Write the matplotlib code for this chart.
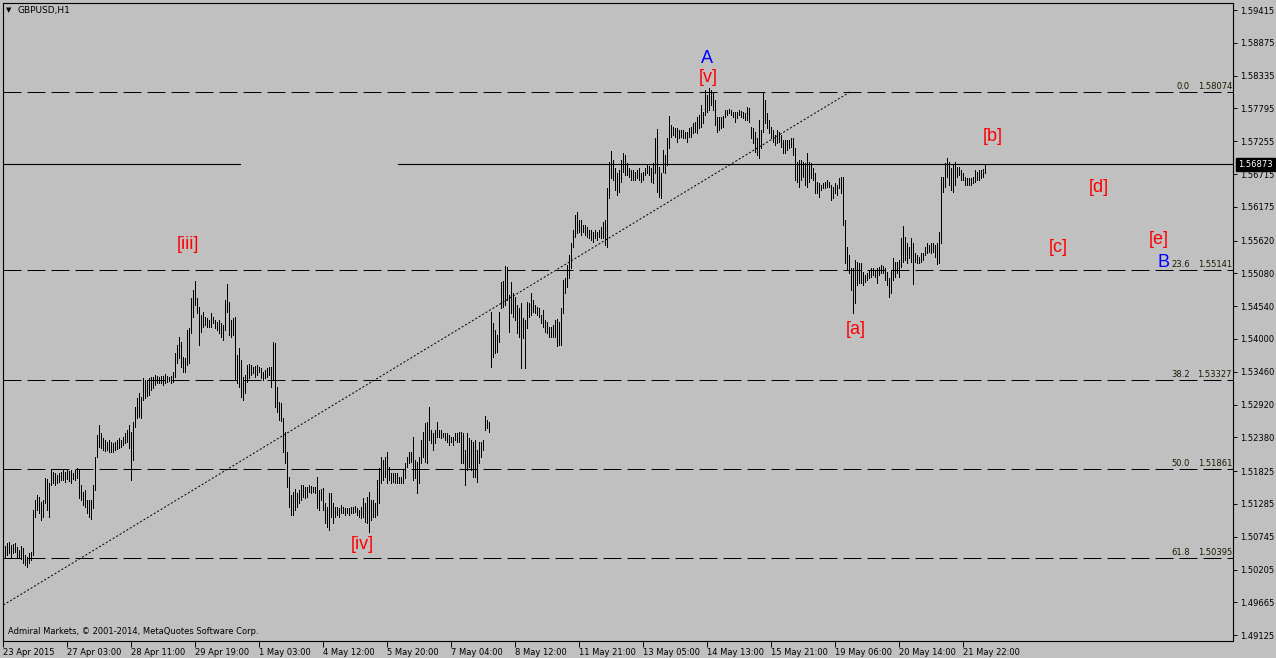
import numpy as np
import matplotlib
matplotlib.use('Agg')
import matplotlib.pyplot as plt

plt.rcParams['font.family'] = ['DejaVu Sans']

symbol = 'GBPUSD,H1'
copyright_text = 'Admiral Markets, \u00a9 2001-2014, MetaQuotes Software Corp.'

# hourly bars, high / low
highs = [
    1.5058, 1.5059, 1.5064, 1.5066, 1.5061, 1.5063, 1.5064, 1.5058, 1.5053, 1.5059,
    1.5056, 1.5044, 1.5041, 1.5048, 1.5049, 1.5118, 1.5135, 1.5143, 1.5140, 1.5132,
    1.5135, 1.5171, 1.5169, 1.5163, 1.5186, 1.5181, 1.5179, 1.5176, 1.5179, 1.5181,
    1.5184, 1.5181, 1.5184, 1.5183, 1.5184, 1.5179, 1.5184, 1.5188, 1.5184, 1.5160,
    1.5148, 1.5151, 1.5135, 1.5135, 1.5135, 1.5160, 1.5206, 1.5242, 1.5258, 1.5245,
    1.5237, 1.5234, 1.5230, 1.5234, 1.5230, 1.5229, 1.5230, 1.5234, 1.5237, 1.5234,
    1.5239, 1.5245, 1.5250, 1.5258, 1.5247, 1.5263, 1.5288, 1.5303, 1.5311, 1.5304,
    1.5336, 1.5333, 1.5333, 1.5336, 1.5337, 1.5337, 1.5341, 1.5339, 1.5337, 1.5339,
    1.5339, 1.5342, 1.5339, 1.5337, 1.5339, 1.5346, 1.5377, 1.5390, 1.5403, 1.5395,
    1.5370, 1.5369, 1.5415, 1.5418, 1.5467, 1.5481, 1.5495, 1.5467, 1.5453, 1.5439,
    1.5444, 1.5436, 1.5434, 1.5431, 1.5443, 1.5436, 1.5431, 1.5428, 1.5431, 1.5426,
    1.5423, 1.5464, 1.5490, 1.5461, 1.5431, 1.5434, 1.5436, 1.5374, 1.5385, 1.5365,
    1.5337, 1.5341, 1.5357, 1.5359, 1.5357, 1.5354, 1.5356, 1.5357, 1.5354, 1.5352,
    1.5346, 1.5349, 1.5352, 1.5354, 1.5354, 1.5395, 1.5393, 1.5321, 1.5296, 1.5295,
    1.5270, 1.5247, 1.5214, 1.5173, 1.5143, 1.5148, 1.5153, 1.5146, 1.5151, 1.5160,
    1.5160, 1.5156, 1.5156, 1.5160, 1.5158, 1.5156, 1.5156, 1.5173, 1.5151, 1.5153,
    1.5155, 1.5130, 1.5123, 1.5146, 1.5146, 1.5130, 1.5123, 1.5123, 1.5122, 1.5127,
    1.5123, 1.5122, 1.5122, 1.5122, 1.5123, 1.5123, 1.5125, 1.5122, 1.5118, 1.5123,
    1.5138, 1.5130, 1.5140, 1.5148, 1.5135, 1.5135, 1.5130, 1.5168, 1.5188, 1.5206,
    1.5201, 1.5206, 1.5214, 1.5189, 1.5179, 1.5179, 1.5179, 1.5179, 1.5173, 1.5173,
    1.5184, 1.5196, 1.5206, 1.5214, 1.5214, 1.5239, 1.5201, 1.5198, 1.5206, 1.5234,
    1.5247, 1.5262, 1.5263, 1.5288, 1.5250, 1.5245, 1.5250, 1.5263, 1.5250, 1.5250,
    1.5245, 1.5245, 1.5245, 1.5242, 1.5239, 1.5239, 1.5245, 1.5245, 1.5247, 1.5247,
    1.5245, 1.5217, 1.5245, 1.5237, 1.5234, 1.5230, 1.5234, 1.5217, 1.5230, 1.5230,
    1.5234, 1.5273, 1.5267, 1.5263, 1.5444, 1.5426, 1.5415, 1.5406, 1.5444, 1.5494,
    1.5495, 1.5520, 1.5518, 1.5472, 1.5494, 1.5476, 1.5469, 1.5456, 1.5451, 1.5459,
    1.5434, 1.5431, 1.5461, 1.5459, 1.5476, 1.5464, 1.5456, 1.5453, 1.5451, 1.5439,
    1.5448, 1.5431, 1.5428, 1.5420, 1.5420, 1.5423, 1.5431, 1.5433, 1.5428, 1.5451,
    1.5497, 1.5500, 1.5522, 1.5538, 1.5558, 1.5579, 1.5604, 1.5609, 1.5596, 1.5596,
    1.5588, 1.5588, 1.5584, 1.5579, 1.5579, 1.5576, 1.5579, 1.5576, 1.5579, 1.5584,
    1.5593, 1.5596, 1.5649, 1.5691, 1.5709, 1.5695, 1.5681, 1.5673, 1.5678, 1.5695,
    1.5706, 1.5703, 1.5690, 1.5681, 1.5678, 1.5678, 1.5675, 1.5678, 1.5681, 1.5673,
    1.5675, 1.5681, 1.5686, 1.5685, 1.5681, 1.5690, 1.5731, 1.5746, 1.5683, 1.5673,
    1.5711, 1.5703, 1.5731, 1.5767, 1.5752, 1.5749, 1.5747, 1.5747, 1.5744, 1.5744,
    1.5744, 1.5741, 1.5741, 1.5747, 1.5749, 1.5756, 1.5757, 1.5765, 1.5769, 1.5785,
    1.5774, 1.5810, 1.5802, 1.5813, 1.5810, 1.5805, 1.5793, 1.5765, 1.5765, 1.5765,
    1.5767, 1.5777, 1.5777, 1.5779, 1.5777, 1.5774, 1.5774, 1.5774, 1.5777, 1.5775,
    1.5774, 1.5772, 1.5782, 1.5780, 1.5749, 1.5747, 1.5741, 1.5731, 1.5761, 1.5744,
    1.5805, 1.5793, 1.5772, 1.5761, 1.5749, 1.5744, 1.5736, 1.5744, 1.5741, 1.5736,
    1.5728, 1.5728, 1.5728, 1.5728, 1.5731, 1.5731, 1.5714, 1.5691, 1.5695, 1.5695,
    1.5691, 1.5690, 1.5706, 1.5691, 1.5690, 1.5681, 1.5673, 1.5658, 1.5657, 1.5653,
    1.5657, 1.5658, 1.5662, 1.5658, 1.5653, 1.5650, 1.5657, 1.5653, 1.5665, 1.5667,
    1.5667, 1.5596, 1.5551, 1.5538, 1.5517, 1.5517, 1.5530, 1.5527, 1.5525, 1.5525,
    1.5510, 1.5505, 1.5509, 1.5512, 1.5517, 1.5517, 1.5514, 1.5517, 1.5518, 1.5522,
    1.5520, 1.5517, 1.5510, 1.5500, 1.5514, 1.5533, 1.5527, 1.5527, 1.5530, 1.5566,
    1.5586, 1.5568, 1.5558, 1.5551, 1.5566, 1.5558, 1.5541, 1.5538, 1.5535, 1.5541,
    1.5541, 1.5551, 1.5558, 1.5555, 1.5558, 1.5558, 1.5555, 1.5558, 1.5576, 1.5667,
    1.5667, 1.5690, 1.5698, 1.5691, 1.5681, 1.5686, 1.5691, 1.5683, 1.5683, 1.5678,
    1.5673, 1.5667, 1.5665, 1.5665, 1.5665, 1.5667, 1.5678, 1.5675, 1.5678, 1.5678,
    1.5680, 1.5686,
]
lows = [
    1.5038, 1.5041, 1.5045, 1.5048, 1.5041, 1.5048, 1.5049, 1.5041, 1.5040, 1.5038,
    1.5031, 1.5028, 1.5025, 1.5031, 1.5036, 1.5044, 1.5107, 1.5118, 1.5113, 1.5102,
    1.5107, 1.5130, 1.5118, 1.5107, 1.5160, 1.5163, 1.5160, 1.5163, 1.5164, 1.5168,
    1.5168, 1.5164, 1.5169, 1.5166, 1.5163, 1.5169, 1.5168, 1.5171, 1.5138, 1.5135,
    1.5127, 1.5123, 1.5113, 1.5107, 1.5104, 1.5122, 1.5151, 1.5206, 1.5222, 1.5220,
    1.5217, 1.5216, 1.5217, 1.5214, 1.5214, 1.5214, 1.5217, 1.5219, 1.5220, 1.5222,
    1.5225, 1.5229, 1.5230, 1.5220, 1.5168, 1.5201, 1.5255, 1.5270, 1.5271, 1.5270,
    1.5300, 1.5303, 1.5306, 1.5308, 1.5316, 1.5319, 1.5324, 1.5327, 1.5327, 1.5327,
    1.5324, 1.5327, 1.5329, 1.5331, 1.5327, 1.5329, 1.5337, 1.5360, 1.5369, 1.5354,
    1.5346, 1.5346, 1.5357, 1.5360, 1.5410, 1.5436, 1.5456, 1.5443, 1.5390, 1.5411,
    1.5420, 1.5423, 1.5420, 1.5420, 1.5420, 1.5426, 1.5418, 1.5415, 1.5410, 1.5403,
    1.5398, 1.5415, 1.5444, 1.5406, 1.5403, 1.5406, 1.5333, 1.5328, 1.5321, 1.5305,
    1.5300, 1.5311, 1.5329, 1.5336, 1.5341, 1.5344, 1.5337, 1.5341, 1.5346, 1.5336,
    1.5333, 1.5336, 1.5337, 1.5341, 1.5321, 1.5333, 1.5288, 1.5280, 1.5267, 1.5265,
    1.5214, 1.5196, 1.5156, 1.5123, 1.5110, 1.5110, 1.5118, 1.5123, 1.5130, 1.5135,
    1.5140, 1.5138, 1.5140, 1.5148, 1.5146, 1.5148, 1.5146, 1.5122, 1.5118, 1.5135,
    1.5118, 1.5097, 1.5091, 1.5086, 1.5107, 1.5097, 1.5107, 1.5110, 1.5107, 1.5114,
    1.5114, 1.5110, 1.5114, 1.5110, 1.5114, 1.5114, 1.5115, 1.5110, 1.5107, 1.5105,
    1.5107, 1.5099, 1.5097, 1.5082, 1.5102, 1.5107, 1.5107, 1.5110, 1.5130, 1.5163,
    1.5168, 1.5173, 1.5163, 1.5168, 1.5163, 1.5164, 1.5163, 1.5163, 1.5163, 1.5163,
    1.5163, 1.5171, 1.5189, 1.5196, 1.5198, 1.5168, 1.5171, 1.5146, 1.5163, 1.5196,
    1.5206, 1.5198, 1.5196, 1.5234, 1.5229, 1.5217, 1.5229, 1.5239, 1.5239, 1.5237,
    1.5239, 1.5234, 1.5230, 1.5225, 1.5230, 1.5225, 1.5234, 1.5230, 1.5230, 1.5196,
    1.5196, 1.5160, 1.5184, 1.5189, 1.5184, 1.5173, 1.5173, 1.5164, 1.5196, 1.5206,
    1.5217, 1.5250, 1.5253, 1.5247, 1.5354, 1.5370, 1.5377, 1.5379, 1.5395, 1.5451,
    1.5453, 1.5456, 1.5464, 1.5411, 1.5443, 1.5436, 1.5431, 1.5410, 1.5403, 1.5352,
    1.5402, 1.5352, 1.5418, 1.5436, 1.5439, 1.5444, 1.5443, 1.5439, 1.5436, 1.5426,
    1.5420, 1.5411, 1.5410, 1.5403, 1.5403, 1.5403, 1.5403, 1.5388, 1.5390, 1.5390,
    1.5443, 1.5476, 1.5486, 1.5500, 1.5517, 1.5551, 1.5568, 1.5575, 1.5576, 1.5571,
    1.5576, 1.5571, 1.5568, 1.5566, 1.5563, 1.5560, 1.5566, 1.5563, 1.5568, 1.5566,
    1.5566, 1.5555, 1.5551, 1.5632, 1.5665, 1.5662, 1.5645, 1.5637, 1.5642, 1.5658,
    1.5675, 1.5670, 1.5670, 1.5667, 1.5662, 1.5662, 1.5662, 1.5665, 1.5662, 1.5658,
    1.5662, 1.5670, 1.5673, 1.5670, 1.5658, 1.5657, 1.5673, 1.5642, 1.5634, 1.5632,
    1.5675, 1.5673, 1.5686, 1.5714, 1.5733, 1.5736, 1.5733, 1.5724, 1.5731, 1.5733,
    1.5731, 1.5731, 1.5724, 1.5733, 1.5733, 1.5739, 1.5741, 1.5739, 1.5747, 1.5749,
    1.5755, 1.5769, 1.5774, 1.5777, 1.5785, 1.5777, 1.5752, 1.5741, 1.5744, 1.5747,
    1.5749, 1.5765, 1.5769, 1.5772, 1.5769, 1.5765, 1.5757, 1.5764, 1.5769, 1.5765,
    1.5764, 1.5760, 1.5760, 1.5757, 1.5731, 1.5723, 1.5708, 1.5703, 1.5698, 1.5714,
    1.5741, 1.5755, 1.5747, 1.5739, 1.5731, 1.5724, 1.5719, 1.5723, 1.5724, 1.5716,
    1.5706, 1.5706, 1.5711, 1.5714, 1.5716, 1.5703, 1.5662, 1.5658, 1.5650, 1.5662,
    1.5667, 1.5653, 1.5650, 1.5658, 1.5665, 1.5662, 1.5640, 1.5640, 1.5634, 1.5645,
    1.5649, 1.5649, 1.5650, 1.5650, 1.5629, 1.5632, 1.5640, 1.5637, 1.5649, 1.5640,
    1.5588, 1.5525, 1.5514, 1.5509, 1.5481, 1.5443, 1.5459, 1.5489, 1.5492, 1.5492,
    1.5489, 1.5494, 1.5497, 1.5500, 1.5502, 1.5505, 1.5502, 1.5492, 1.5505, 1.5509,
    1.5509, 1.5497, 1.5489, 1.5469, 1.5476, 1.5497, 1.5502, 1.5509, 1.5502, 1.5518,
    1.5527, 1.5530, 1.5525, 1.5533, 1.5527, 1.5490, 1.5527, 1.5525, 1.5525, 1.5527,
    1.5530, 1.5538, 1.5541, 1.5543, 1.5541, 1.5543, 1.5535, 1.5523, 1.5525, 1.5558,
    1.5642, 1.5650, 1.5667, 1.5653, 1.5645, 1.5642, 1.5653, 1.5667, 1.5670, 1.5662,
    1.5662, 1.5653, 1.5653, 1.5653, 1.5653, 1.5657, 1.5658, 1.5662, 1.5662, 1.5665,
    1.5667, 1.5673,
]

date_labels = ['23 Apr 2015', '27 Apr 03:00', '28 Apr 11:00', '29 Apr 19:00',
               '1 May 03:00', '4 May 12:00', '5 May 20:00', '7 May 04:00',
               '8 May 12:00', '11 May 21:00', '13 May 05:00', '14 May 13:00',
               '15 May 21:00', '19 May 06:00', '20 May 14:00', '21 May 22:00']
bars_per_label = 32

price_ticks = [1.59415, 1.58875, 1.58335, 1.57795, 1.57255, 1.56715, 1.56175,
               1.55620, 1.55080, 1.54540, 1.54000, 1.53460, 1.52920, 1.52380,
               1.51825, 1.51285, 1.50745, 1.50205, 1.49665, 1.49125]

fibo_levels = ['0.0', '23.6', '38.2', '50.0', '61.8']
fibo_prices = [1.58074, 1.55141, 1.53327, 1.51861, 1.50395]
bid_price = 1.56873

trend_bars = [0, 424]
trend_prices = [1.4962, 1.5808]

# wave counts: text, bar position, price, colour
wave_text = ['[iii]', '[iv]', 'A', '[v]', '[a]', '[b]', '[c]', '[d]', '[e]', 'B']
wave_bar = [92.4, 179.4, 351.9, 352.4, 426.4, 494.9, 527.4, 547.9, 577.9, 579.9]
wave_price = [1.5556, 1.5061, 1.5861, 1.5830, 1.5416, 1.5734, 1.5550, 1.5649, 1.5563, 1.5526]
wave_color = ['red', 'red', 'blue', 'red', 'red', 'red', 'red', 'red', 'red', 'blue']

bg = '#c0c0c0'
W, H = 1276, 658

fig = plt.figure(figsize=(W / 100, H / 100), dpi=100, facecolor=bg)
ax = fig.add_axes([3 / W, 17 / H, 1230 / W, 638 / H])
ax.set_facecolor(bg)

idx = np.arange(len(highs))
ax.vlines(idx, lows, highs, colors='black', linewidth=0.5, antialiased=False)

ax.set_xlim(-0.15, 614.85)
ax.set_ylim(1.49028, 1.59531)

# fibo retracement lines + labels
for lvl, p in zip(fibo_levels, fibo_prices):
    ax.axhline(p, color='black', linewidth=0.72, linestyle=(0, (18, 6)))
    ax.text(0.965, p + 0.00012, lvl, transform=ax.get_yaxis_transform(),
            ha='right', va='bottom', fontsize=6, color='#1a1a00')
    ax.text(0.9992, p + 0.00012, '%.5f' % p, transform=ax.get_yaxis_transform(),
            ha='right', va='bottom', fontsize=6, color='#1a1a00')

# bid line (broken in the middle like on the screenshot)
ax.axhline(bid_price, xmin=0, xmax=0.1927, color='black', linewidth=0.8)
ax.axhline(bid_price, xmin=0.3211, xmax=1, color='black', linewidth=0.8)
ax.text(1.0045, bid_price, '%.5f' % bid_price, transform=ax.get_yaxis_transform(),
        ha='left', va='center', fontsize=6, color='white', clip_on=False,
        bbox=dict(facecolor='black', edgecolor='black', boxstyle='square,pad=0.25'))

# trend line
ax.plot(trend_bars, trend_prices, color='black', linewidth=0.72, linestyle=(0, (2, 2)))

for t, b, p, c in zip(wave_text, wave_bar, wave_price, wave_color):
    ax.text(b, p, t, color=c, fontsize=13, ha='center', va='center',
            family='Liberation Sans')

# axes styling
for s in ax.spines.values():
    s.set_color('black')
    s.set_linewidth(0.8)

ax.yaxis.tick_right()
ax.set_yticks(price_ticks)
ax.set_yticklabels(['%.5f' % v for v in price_ticks])
ax.tick_params(axis='y', direction='out', length=3, width=0.7, labelsize=6, pad=2, colors='black')

ax.set_xticks([k * bars_per_label for k in range(len(date_labels))])
ax.set_xticklabels(date_labels)
for lab in ax.get_xticklabels():
    lab.set_horizontalalignment('left')
ax.tick_params(axis='x', direction='out', length=4, width=0.7, labelsize=6, pad=1, colors='black')

fig.text(9 / W, 1 - 10.5 / H, '\u25bc', fontsize=5, ha='center', va='center')
fig.text(18 / W, 1 - 10 / H, symbol, fontsize=6.5, ha='left', va='center')
fig.text(8 / W, 1 - 632 / H, copyright_text, fontsize=6, ha='left', va='center')

fig.savefig('out.png', dpi=100, facecolor=bg)
